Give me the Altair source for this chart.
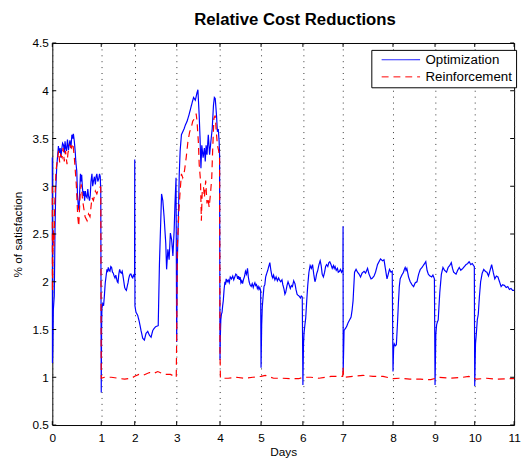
import altair as alt
import pandas as pd

# ---------------- data ----------------
series_names = ["Optimization", "Reinforcement"]

opt_day = [0.000, 0.003, 0.010, 0.020, 0.040, 0.055, 0.070, 0.090, 0.110, 0.125, 0.140, 0.160, 0.175, 0.190,
           0.210, 0.230, 0.245, 0.260, 0.275, 0.290, 0.310, 0.330, 0.345, 0.360, 0.380, 0.400, 0.420, 0.430,
           0.450, 0.470, 0.480, 0.500, 0.515, 0.530, 0.545, 0.560, 0.575, 0.590, 0.600, 0.615, 0.630, 0.645,
           0.660, 0.675, 0.690, 0.710, 0.725, 0.740, 0.760, 0.775, 0.790, 0.810, 0.825, 0.840, 0.860, 0.880,
           0.895, 0.910, 0.930, 0.950, 0.965, 0.980, 0.990,
           1.000, 1.010, 1.020, 1.045, 1.070, 1.095, 1.120, 1.145, 1.170, 1.190, 1.210, 1.235, 1.260, 1.285,
           1.310, 1.335, 1.360, 1.385, 1.410, 1.435, 1.460, 1.480, 1.500, 1.525, 1.550, 1.575, 1.600, 1.625,
           1.650, 1.675, 1.700, 1.725, 1.750, 1.775, 1.800, 1.820, 1.840, 1.865, 1.890, 1.915, 1.940, 1.960,
           1.980, 1.995,
           2.000, 2.005, 2.030, 2.070, 2.110, 2.150, 2.190, 2.230, 2.270, 2.310, 2.350, 2.390, 2.430, 2.460,
           2.500, 2.560, 2.590, 2.640, 2.670, 2.700, 2.740, 2.760, 2.790, 2.820, 2.850, 2.880, 2.910, 2.940,
           2.960, 2.985,
           3.000, 3.015, 3.040, 3.060, 3.080, 3.110, 3.140, 3.170, 3.200, 3.240, 3.280, 3.320, 3.360, 3.390,
           3.430, 3.470, 3.490, 3.520, 3.540, 3.560, 3.580, 3.610, 3.640, 3.660, 3.680, 3.700, 3.730, 3.760,
           3.790, 3.820, 3.850, 3.870, 3.890, 3.920, 3.940, 3.960, 3.980, 3.990,
           4.000, 4.010, 4.020, 4.035, 4.050, 4.065, 4.080, 4.100, 4.120, 4.135, 4.150, 4.175, 4.200, 4.225,
           4.250, 4.280, 4.310, 4.335, 4.360, 4.385, 4.410, 4.430, 4.450, 4.470, 4.490, 4.510, 4.530, 4.550,
           4.570, 4.600, 4.620, 4.645, 4.670, 4.690, 4.710, 4.730, 4.760, 4.785, 4.810, 4.830, 4.850, 4.870,
           4.890, 4.910, 4.930, 4.950, 4.970, 4.990,
           5.000, 5.015, 5.030, 5.050, 5.070, 5.090, 5.110, 5.130, 5.160, 5.190, 5.210, 5.235, 5.260, 5.280,
           5.300, 5.330, 5.360, 5.390, 5.420, 5.440, 5.470, 5.500, 5.520, 5.550, 5.570, 5.590, 5.620, 5.645,
           5.670, 5.700, 5.725, 5.750, 5.780, 5.810, 5.835, 5.860, 5.880, 5.910, 5.940, 5.960, 5.985,
           6.000, 6.015, 6.030, 6.050, 6.070, 6.095, 6.120, 6.150, 6.180, 6.210, 6.240, 6.270, 6.300, 6.320,
           6.340, 6.370, 6.400, 6.430, 6.455, 6.480, 6.510, 6.540, 6.565, 6.590, 6.620, 6.645, 6.670, 6.700,
           6.730, 6.760, 6.780, 6.800, 6.830, 6.860, 6.880, 6.910, 6.935, 6.960, 6.985, 6.995,
           7.000, 7.002, 7.020, 7.045, 7.070, 7.100, 7.130, 7.160, 7.180, 7.200, 7.215, 7.230, 7.260, 7.290,
           7.320, 7.350, 7.380, 7.420, 7.450, 7.490, 7.520, 7.560, 7.590, 7.620, 7.650, 7.690, 7.720, 7.750,
           7.790, 7.820, 7.850, 7.880, 7.905, 7.930, 7.960, 7.985,
           8.000, 8.015, 8.030, 8.055, 8.080, 8.105, 8.130, 8.150, 8.170, 8.210, 8.250, 8.270, 8.290, 8.310,
           8.330, 8.370, 8.410, 8.450, 8.490, 8.530, 8.570, 8.610, 8.650, 8.690, 8.720, 8.750, 8.780, 8.810,
           8.840, 8.880, 8.920, 8.950, 8.985,
           9.000, 9.020, 9.040, 9.060, 9.080, 9.100, 9.120, 9.160, 9.200, 9.240, 9.290, 9.330, 9.370, 9.410,
           9.440, 9.470, 9.500, 9.530, 9.570, 9.610, 9.650, 9.700, 9.740, 9.780, 9.820, 9.860, 9.900, 9.940,
           9.970, 9.990,
           10.000, 10.020, 10.040, 10.065, 10.090, 10.120, 10.150, 10.190, 10.230, 10.270, 10.310, 10.350,
           10.390, 10.430, 10.470, 10.510, 10.550, 10.590, 10.630, 10.670, 10.710, 10.760, 10.800, 10.840,
           10.880, 10.920, 10.960, 11.000]
opt_val = [3.30, 1.15, 1.30, 1.70, 1.85, 2.54, 2.95, 3.20, 3.33, 3.42, 3.35, 3.40, 3.30, 3.38,
           3.45, 3.43, 3.35, 3.47, 3.40, 3.37, 3.49, 3.38, 3.43, 3.48, 3.40, 3.54, 3.50, 3.55,
           3.47, 3.35, 3.26, 3.16, 2.90, 2.80, 2.75, 2.95, 3.13, 3.05, 3.12, 2.99, 2.90, 2.95,
           2.85, 2.95, 2.90, 2.88, 2.97, 2.90, 2.85, 2.90, 3.05, 3.13, 3.00, 3.05, 3.10, 3.02,
           3.10, 3.13, 3.05, 3.08, 3.13, 3.10, 2.95,
           0.84, 1.50, 1.72, 1.77, 1.75, 1.86, 1.99, 2.06, 2.13, 2.10, 2.15, 2.12, 2.11, 2.16,
           2.15, 2.10, 2.09, 2.06, 2.04, 2.07, 2.03, 2.00, 1.99, 2.08, 2.13, 2.10, 2.09, 2.11,
           2.06, 2.00, 1.94, 1.92, 1.91, 1.95, 1.99, 2.03, 2.06, 2.08, 2.08, 2.05, 2.04, 2.07,
           2.06, 2.05,
           3.28, 1.75, 1.68, 1.65, 1.58, 1.49, 1.41, 1.39, 1.46, 1.48, 1.44, 1.42, 1.49, 1.51,
           1.53, 1.54, 2.20, 2.92, 2.85, 2.68, 2.40, 2.13, 2.34, 2.23, 2.51, 2.44, 2.27, 2.54,
           2.82, 3.09,
           1.37, 2.20, 2.68, 3.13, 3.37, 3.54, 3.57, 3.60, 3.64, 3.68, 3.74, 3.81, 3.88, 3.93,
           3.90, 3.98, 4.01, 3.74, 3.50, 3.19, 3.43, 3.30, 3.40, 3.26, 3.43, 3.33, 3.54, 3.33,
           3.47, 3.60, 3.85, 3.93, 3.92, 3.74, 3.57, 3.60, 3.47, 3.33,
           1.18, 1.45, 1.60, 1.66, 1.68, 1.75, 1.80, 1.92, 2.00, 1.97, 2.03, 2.00, 2.02, 1.99,
           2.05, 2.03, 2.06, 2.02, 2.05, 2.08, 2.07, 2.03, 2.06, 2.02, 2.05, 1.99, 2.01, 1.98,
           2.02, 2.06, 2.11, 2.08, 2.14, 2.05, 2.00, 1.97, 1.95, 1.98, 1.94, 1.97, 1.99, 1.96,
           1.97, 1.93, 1.95, 1.92, 1.94, 1.91,
           1.10, 1.55, 1.74, 1.85, 1.95, 1.97, 2.05, 2.08, 2.12, 2.17, 2.20, 2.12, 2.06, 2.04,
           2.07, 2.02, 2.05, 2.01, 2.04, 2.02, 2.00, 2.02, 1.97, 1.92, 1.87, 1.89, 1.96, 2.00,
           1.97, 1.93, 1.96, 1.95, 2.01, 1.98, 1.92, 1.87, 1.86, 1.85, 1.83, 1.85, 1.84,
           0.92, 1.35, 1.47, 1.55, 1.62, 1.80, 1.96, 2.10, 2.17, 2.14, 2.18, 2.08, 2.00, 2.03,
           2.08, 2.12, 2.18, 2.22, 2.17, 2.08, 2.05, 2.10, 2.16, 2.18, 2.16, 2.20, 2.21, 2.18,
           2.14, 2.17, 2.14, 2.16, 2.12, 2.14, 2.10, 2.11, 2.13, 2.10, 2.12, 2.10,
           2.58, 1.05, 1.49, 1.51, 1.53, 1.57, 1.60, 1.63, 1.70, 1.80, 1.95, 2.10, 2.13, 2.10,
           2.08, 2.05, 2.09, 2.11, 2.09, 2.14, 2.08, 2.03, 2.04, 2.06, 2.10, 2.18, 2.21, 2.24,
           2.22, 2.23, 2.13, 2.03, 2.08, 2.13, 2.10, 2.11,
           1.06, 1.30, 1.35, 1.33, 1.34, 1.55, 1.79, 1.95, 2.03, 2.07, 2.10, 2.13, 2.15, 2.12,
           2.14, 2.05, 2.00, 1.97, 1.95, 1.99, 2.00, 2.08, 2.13, 2.15, 2.17, 2.19, 2.21, 2.12,
           2.08, 2.06, 2.05, 2.07, 2.03,
           0.92, 1.45, 1.55, 1.58, 1.60, 1.75, 1.89, 2.08, 2.15, 2.12, 2.10, 2.15, 2.17, 2.20,
           2.14, 2.10, 2.09, 2.08, 2.12, 2.15, 2.12, 2.14, 2.16, 2.18, 2.19, 2.21, 2.18, 2.19,
           2.17, 2.16,
           0.91, 1.35, 1.45, 1.60, 1.66, 1.85, 2.00, 2.09, 2.13, 2.11, 2.10, 2.06,
           2.12, 2.18, 2.10, 2.03, 2.06, 2.05, 2.00, 1.95, 1.97, 1.96, 1.94, 1.95,
           1.92, 1.93, 1.91, 1.91]

rein_day = [0.000, 0.003, 0.010, 0.020, 0.035, 0.050, 0.075, 0.110, 0.130, 0.150, 0.170, 0.200, 0.220, 0.245,
            0.270, 0.300, 0.320, 0.360, 0.390, 0.420, 0.450, 0.490, 0.520, 0.540, 0.570, 0.590, 0.620, 0.640,
            0.670, 0.710, 0.740, 0.770, 0.810, 0.840, 0.880, 0.910, 0.950, 0.990,
            1.000, 1.100, 1.300, 1.500, 1.700, 1.900, 2.000, 2.100, 2.200, 2.350, 2.450, 2.550, 2.700, 2.850,
            2.990,
            3.000, 3.015, 3.030, 3.050, 3.080, 3.110, 3.140, 3.180, 3.220, 3.260, 3.300, 3.330, 3.370, 3.410,
            3.450, 3.470, 3.500, 3.520, 3.550, 3.570, 3.590, 3.620, 3.640, 3.670, 3.700, 3.720, 3.750, 3.780,
            3.810, 3.830, 3.860, 3.890, 3.910, 3.940, 3.970, 3.990,
            4.000, 4.010, 4.200, 4.400, 4.600, 4.800, 5.000, 5.100, 5.300, 5.500, 5.700, 5.900, 6.000, 6.200,
            6.400, 6.700, 6.990, 7.000, 7.010, 7.200, 7.400, 7.600, 7.800, 8.000, 8.150, 8.400, 8.650, 8.900,
            9.100, 9.400, 9.700, 9.850, 10.050, 10.300, 10.550, 10.800, 11.000]
rein_val = [3.00, 1.90, 2.30, 2.54, 2.37, 2.82, 3.16, 3.30, 3.37, 3.25, 3.33, 3.30, 3.40, 3.26,
            3.37, 3.23, 3.35, 3.43, 3.40, 3.45, 3.30, 3.02, 2.68, 2.58, 2.92, 3.02, 2.85, 2.78,
            2.68, 2.64, 2.71, 2.68, 2.88, 2.85, 2.95, 2.92, 2.99, 2.99,
            0.99, 1.00, 1.00, 0.99, 0.98, 0.99, 1.01, 1.03, 1.02, 1.05, 1.04, 1.06, 1.03, 1.03,
            1.00,
            1.40, 2.37, 2.50, 2.73, 2.95, 3.13, 3.09, 3.16, 3.30, 3.47, 3.57, 3.60, 3.68, 3.71,
            3.76, 3.68, 3.47, 3.23, 3.06, 2.64, 2.95, 2.99, 2.88, 3.06, 2.82, 2.88, 2.78, 2.92,
            3.09, 3.37, 3.71, 3.74, 3.60, 3.43, 3.37, 3.30,
            1.30, 0.99, 0.99, 1.00, 0.99, 1.00, 1.01, 1.02, 0.99, 0.99, 0.985, 0.985, 1.00, 1.00,
            0.99, 1.01, 1.01, 1.11, 1.00, 1.01, 1.02, 1.01, 1.01, 0.985, 0.99, 0.98, 0.98, 0.975,
            1.00, 0.99, 1.00, 1.01, 0.98, 0.99, 0.98, 0.985, 0.985]

x_ticks = list(range(12))
y_ticks = [0.5, 1.0, 1.5, 2.0, 2.5, 3.0, 3.5, 4.0, 4.5]

# ---------------- layout / style ----------------
W, H = 469, 388
FONT = "Liberation Sans"
# pixel position of each day mark in the reference (its x axis is not evenly spaced)
x_range_px = [0, 49.7, 83.7, 126.3, 170.3, 212, 254.5, 295.3, 346, 388.7, 429, 469]

df = pd.concat([
    pd.DataFrame({"series": series_names[0], "day": opt_day, "value": opt_val}),
    pd.DataFrame({"series": series_names[1], "day": rein_day, "value": rein_val}),
], ignore_index=True)

xscale = alt.Scale(domain=x_ticks, range=x_range_px)
yscale = alt.Scale(domain=[0.5, 4.5], nice=False, zero=False)

x_axis = alt.Axis(
    values=x_ticks, title="Days", grid=True, gridDash=[1, 5], gridColor="#333",
    gridOpacity=1, gridWidth=1, ticks=False, domain=False, labelPadding=8,
    titlePadding=3, labelFontSize=12, titleFontSize=12, titleFontWeight="normal",
    format="d", labelFlush=False)
y_axis = alt.Axis(
    values=y_ticks, title="% of satisfaction", grid=False, ticks=False, domain=False,
    labelPadding=4, titlePadding=8, labelFontSize=12, titleFontSize=12,
    titleFontWeight="normal", format="~g", labelFlush=False)

legend = alt.Legend(
    title=None, orient="none", legendX=324, legendY=7,
    strokeColor="black", fillColor="white", padding=4, cornerRadius=0,
    symbolType="stroke", symbolSize=1521, symbolStrokeWidth=1, symbolOffset=6,
    labelFontSize=13.5, labelFont=FONT, labelColor="black", labelOffset=5,
    clipHeight=12, rowPadding=3.4,
)

lines = alt.Chart(df).mark_line(strokeWidth=1.2).encode(
    x=alt.X("day:Q", scale=xscale, axis=x_axis),
    y=alt.Y("value:Q", scale=yscale, axis=y_axis),
    color=alt.Color("series:N", scale=alt.Scale(domain=series_names, range=["#0000ff", "#ff0000"]),
                    legend=legend),
    strokeDash=alt.StrokeDash("series:N", scale=alt.Scale(domain=series_names, range=[[1, 0], [7, 5]]),
                              legend=legend),
)

xt = pd.DataFrame({"day": x_ticks})
yt = pd.DataFrame({"value": y_ticks})
tick_bottom = alt.Chart(xt).mark_rule(color="black", strokeWidth=1).encode(
    x=alt.X("day:Q", scale=xscale, axis=x_axis), y=alt.value(H), y2=alt.value(H - 4))
tick_top = alt.Chart(xt).mark_rule(color="black", strokeWidth=1).encode(
    x=alt.X("day:Q", scale=xscale, axis=x_axis), y=alt.value(0), y2=alt.value(4))
tick_left = alt.Chart(yt).mark_rule(color="black", strokeWidth=1).encode(
    y=alt.Y("value:Q", scale=yscale, axis=y_axis), x=alt.value(0), x2=alt.value(4))
tick_right = alt.Chart(yt).mark_rule(color="black", strokeWidth=1).encode(
    y=alt.Y("value:Q", scale=yscale, axis=y_axis), x=alt.value(W - 4), x2=alt.value(W))

chart = alt.layer(lines, tick_bottom, tick_top, tick_left, tick_right).properties(
    width=W, height=H,
    title=alt.TitleParams(text="Relative Cost Reductions", fontSize=17, fontWeight="bold",
                          font=FONT, anchor="middle", offset=8, dx=12, color="black"),
    autosize=alt.AutoSizeParams(type="none"),
    padding={"left": 45, "top": 32, "right": 7, "bottom": 34},
).configure(font=FONT, background="white").configure_view(
    stroke="black", strokeWidth=1
).configure_axis(labelColor="black", titleColor="black", labelFont=FONT, titleFont=FONT)

chart.save("out.html", embed_options={"renderer": "svg", "actions": False})
